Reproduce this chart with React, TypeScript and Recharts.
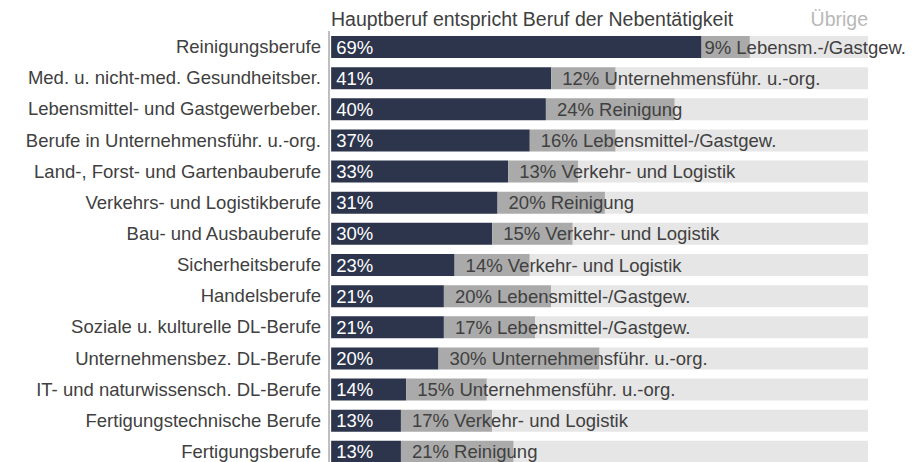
import React from "react";
import { BarChart, Bar, XAxis, YAxis, LabelList } from "recharts";

const categories = [
  "Reinigungsberufe",
  "Med. u. nicht-med. Gesundheitsber.",
  "Lebensmittel- und Gastgewerbeber.",
  "Berufe in Unternehmensführ. u.-org.",
  "Land-, Forst- und Gartenbauberufe",
  "Verkehrs- und Logistikberufe",
  "Bau- und Ausbauberufe",
  "Sicherheitsberufe",
  "Handelsberufe",
  "Soziale u. kulturelle DL-Berufe",
  "Unternehmensbez. DL-Berufe",
  "IT- und naturwissensch. DL-Berufe",
  "Fertigungstechnische Berufe",
  "Fertigungsberufe",
];
const mainShares = [69, 41, 40, 37, 33, 31, 30, 23, 21, 21, 20, 14, 13, 13];
const secondShares = [9, 12, 24, 16, 13, 20, 15, 14, 20, 17, 30, 15, 17, 21];
const secondLabels = [
  "Lebensm.-/Gastgew.",
  "Unternehmensführ. u.-org.",
  "Reinigung",
  "Lebensmittel-/Gastgew.",
  "Verkehr- und Logistik",
  "Reinigung",
  "Verkehr- und Logistik",
  "Verkehr- und Logistik",
  "Lebensmittel-/Gastgew.",
  "Lebensmittel-/Gastgew.",
  "Unternehmensführ. u.-org.",
  "Unternehmensführ. u.-org.",
  "Verkehr- und Logistik",
  "Reinigung",
];
const restShares = [22, 47, 36, 47, 54, 49, 55, 63, 59, 62, 50, 71, 70, 66];
const headerMain = "Hauptberuf entspricht Beruf der Nebentätigkeit";
const headerRest = "Übrige";

const data = categories.map((name, i) => ({
  name,
  main: mainShares[i],
  second: secondShares[i],
  rest: restShares[i],
  mainText: `${mainShares[i]}%`,
  secondText: `${secondShares[i]}% ${secondLabels[i]}`,
}));

const FONT = '"Liberation Sans", Arial, sans-serif';
const FS = 18.5;
const TITLE_FS = 19.5;
const W = 914;
const H = 462;

let ctx: CanvasRenderingContext2D | null = null;
function measure(t: string) {
  if (!ctx) {
    const c = document.createElement("canvas");
    ctx = c.getContext("2d");
  }
  if (!ctx) return t.length * 9;
  ctx.font = `${FS}px ${FONT}`;
  return ctx.measureText(t).width;
}

const renderMainLabel = (props: any) => {
  const { x, y, height, value } = props;
  return (
    <text
      x={Number(x) + 5}
      y={Number(y) + Number(height) / 2}
      dominantBaseline="central"
      fill="#ffffff"
      fontSize={FS}
      fontFamily={FONT}
    >
      {value}
    </text>
  );
};

const renderSecondLabel = (props: any) => {
  const { x, y, height, value } = props;
  const w = measure(String(value));
  const tx = Math.min(Number(x) + 11, W - 8 - w);
  return (
    <text
      x={tx}
      y={Number(y) + Number(height) / 2}
      dominantBaseline="central"
      fill="#404040"
      fontSize={FS}
      fontFamily={FONT}
    >
      {value}
    </text>
  );
};

export default function App() {
  return (
    <div
      style={{
        position: "absolute",
        left: 0,
        top: 0,
        width: W,
        height: H,
        overflow: "hidden",
        background: "#fff",
        fontFamily: FONT,
      }}
    >
      <div
        style={{
          position: "absolute",
          left: 331,
          top: 7,
          fontSize: TITLE_FS,
          color: "#404040",
          lineHeight: "24px",
          whiteSpace: "nowrap",
        }}
      >
        {headerMain}
      </div>
      <div
        style={{
          position: "absolute",
          right: W - 868,
          top: 7,
          fontSize: TITLE_FS,
          color: "#b8b8b8",
          lineHeight: "24px",
          whiteSpace: "nowrap",
        }}
      >
        {headerRest}
      </div>
      <BarChart
        width={W}
        height={470}
        data={data}
        layout="vertical"
        margin={{ top: 31, right: 46, bottom: 3, left: 0 }}
        barSize={22}
      >
        <XAxis type="number" domain={[-0.4, 100]} hide />
        <YAxis
          type="category"
          dataKey="name"
          width={329}
          tickLine={false}
          tickSize={0}
          tickMargin={8}
          axisLine={{ stroke: "#7f7f7f" }}
          tick={{ fill: "#404040", fontSize: FS, fontFamily: FONT }}
          interval={0}
        />
        <Bar dataKey="main" stackId="a" fill="#2d354d" isAnimationActive={false}>
          <LabelList dataKey="mainText" content={renderMainLabel} />
        </Bar>
        <Bar dataKey="second" stackId="a" fill="#aaaaaa" isAnimationActive={false}>
          <LabelList dataKey="secondText" content={renderSecondLabel} />
        </Bar>
        <Bar dataKey="rest" stackId="a" fill="#e6e6e6" isAnimationActive={false} />
      </BarChart>
    </div>
  );
}
